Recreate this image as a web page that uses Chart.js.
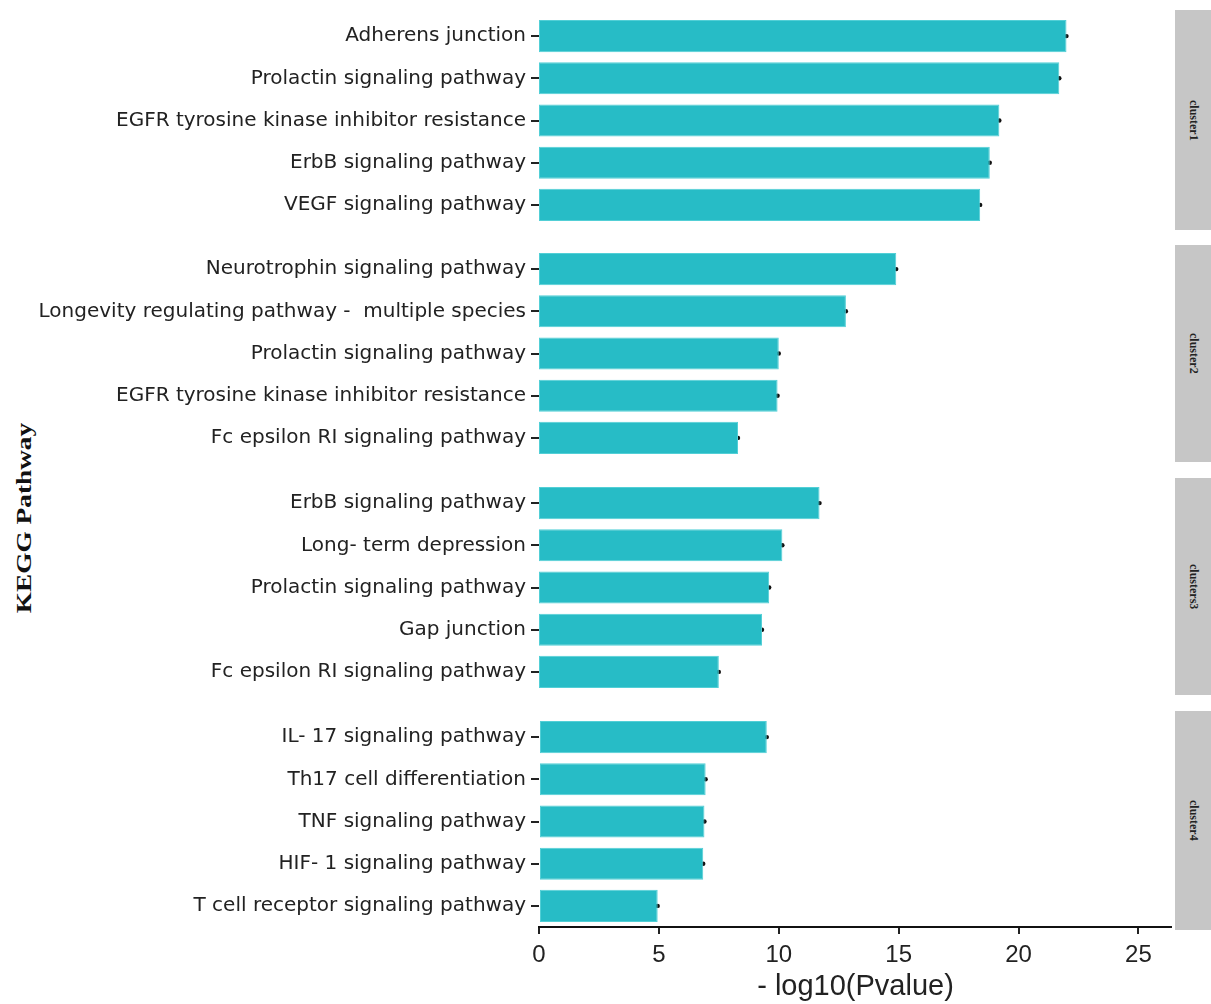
<!DOCTYPE html>
<html>
<head>
<meta charset="utf-8">
<script src="https://cdn.jsdelivr.net/npm/chart.js@4.4.1/dist/chart.umd.min.js"></script>
<style>
  body { margin: 0; background: #fff; width: 1211px; height: 1004px; position: relative; overflow: hidden; }
  .panel { position: absolute; left: 0; width: 1172px; }
  .strip { position: absolute; left: 1175px; width: 36px; background: #c6c6c6;
           font: bold 12px "Liberation Serif", serif; color: #222;
           writing-mode: vertical-rl; display: flex; align-items: center; justify-content: center; }
  #ytitle { position: absolute; left: 24px; top: 518px; transform: translate(-50%, -50%) rotate(-90deg) scaleX(1.3);
            font: bold 21px "Liberation Serif", serif; color: #111; white-space: nowrap; }
</style>
</head>
<body>
<div id="ytitle">KEGG Pathway</div>
<div class="panel" style="top:15px;height:211px"><canvas id="p1"></canvas></div>
<div class="panel" style="top:248px;height:211px"><canvas id="p2"></canvas></div>
<div class="panel" style="top:482px;height:211px"><canvas id="p3"></canvas></div>
<div class="panel" style="top:716px;height:288px"><canvas id="p4"></canvas></div>
<div class="strip" style="top:10px;height:220px">cluster1</div>
<div class="strip" style="top:245px;height:217px">cluster2</div>
<div class="strip" style="top:478px;height:217px">clusters3</div>
<div class="strip" style="top:711px;height:219px">cluster4</div>
<script>
const cluster1Labels = ['Adherens junction', 'Prolactin signaling pathway', 'EGFR tyrosine kinase inhibitor resistance', 'ErbB signaling pathway', 'VEGF signaling pathway'];
const cluster1Values = [22.0, 21.7, 19.2, 18.8, 18.4];

const cluster2Labels = ['Neurotrophin signaling pathway', 'Longevity regulating pathway -  multiple species', 'Prolactin signaling pathway', 'EGFR tyrosine kinase inhibitor resistance', 'Fc epsilon RI signaling pathway'];
const cluster2Values = [14.9, 12.8, 10.0, 9.95, 8.3];

const cluster3Labels = ['ErbB signaling pathway', 'Long- term depression', 'Prolactin signaling pathway', 'Gap junction', 'Fc epsilon RI signaling pathway'];
const cluster3Values = [11.7, 10.15, 9.6, 9.3, 7.5];

const cluster4Labels = ['IL- 17 signaling pathway', 'Th17 cell differentiation', 'TNF signaling pathway', 'HIF- 1 signaling pathway', 'T cell receptor signaling pathway'];
const cluster4Values = [9.5, 6.95, 6.9, 6.85, 4.95];

const xMax = 26.4;
const xTicks = [0, 5, 10, 15, 20, 25];

function makePanel(id, labels, values, showX) {
    return new Chart(document.getElementById(id), {
        type: 'bar',
        data: {
            labels: labels,
            datasets: [{
                type: 'bar',
                indexAxis: 'y',
                data: values,
                backgroundColor: '#27bcc6',
                borderColor: '#52cfd6',
                borderWidth: 1,
                borderSkipped: false,
                barPercentage: 0.76,
                categoryPercentage: 1
            }, {
                // small dots at the bar ends
                type: 'line',
                indexAxis: 'y',
                data: values,
                showLine: false,
                clip: false,
                pointRadius: 2.2,
                pointBackgroundColor: '#111',
                pointBorderWidth: 0
            }]
        },
        options: {
            indexAxis: 'y',
            responsive: true,
            maintainAspectRatio: false,
            animation: false,
            layout: { padding: 0, autoPadding: false },
            plugins: {
                legend: { display: false },
                tooltip: { enabled: false }
            },
            scales: {
                x: {
                    type: 'linear',
                    min: 0,
                    max: xMax,
                    display: showX,
                    afterBuildTicks: function(scale) {
                        scale.ticks = xTicks.map(v => ({ value: v }));
                    },
                    afterFit: function(scale) {
                        if (!showX) return;
                        scale.height = 77;
                        scale.paddingLeft = 0;
                        scale.paddingRight = 0;
                    },
                    ticks: {
                        color: '#222',
                        font: { family: 'Liberation Sans', size: 24 },
                        padding: 7,
                        maxRotation: 0
                    },
                    grid: { drawOnChartArea: false, tickLength: 7, color: '#222', lineWidth: 2 },
                    border: { display: true, color: '#111', width: 2 },
                    title: {
                        display: true,
                        text: '- log10(Pvalue)',
                        color: '#222',
                        font: { family: 'Liberation Sans', size: 29 },
                        padding: { top: 0, bottom: 0 }
                    }
                },
                y: {
                    type: 'category',
                    afterFit: function(scale) {
                        scale.width = 539;
                        scale.paddingTop = 0;
                        scale.paddingBottom = 0;
                    },
                    ticks: {
                        color: '#222',
                        font: { family: 'DejaVu Sans', size: 20 },
                        padding: 5,
                        autoSkip: false
                    },
                    grid: { offset: false, drawOnChartArea: false, tickLength: 8, color: '#222', lineWidth: 2 },
                    border: { display: false }
                }
            }
        }
    });
}

makePanel('p1', cluster1Labels, cluster1Values, false);
makePanel('p2', cluster2Labels, cluster2Values, false);
makePanel('p3', cluster3Labels, cluster3Values, false);
makePanel('p4', cluster4Labels, cluster4Values, true);
</script>
</body>
</html>
